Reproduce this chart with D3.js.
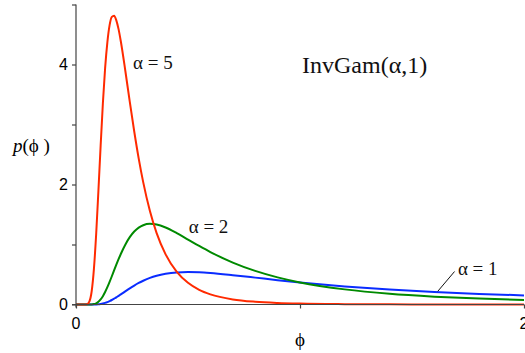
<!DOCTYPE html>
<html>
<head>
<meta charset="utf-8">
<script src="https://cdn.jsdelivr.net/npm/d3@7"></script>
<style>
  body { margin: 0; background: #fff; }
  svg { display: block; }
</style>
</head>
<body>
<div class="canvas"></div>
<script>
// phi grid shared by all three curves
const phi = [0, 0.02, 0.04, 0.05, 0.06, 0.07, 0.08, 0.09, 0.10, 0.11, 0.12, 0.13, 0.14, 0.15, 0.16, 0.17, 0.18, 0.19, 0.20,
  0.22, 0.24, 0.26, 0.28, 0.30, 0.33, 0.36, 0.40, 0.45, 0.50, 0.55, 0.60, 0.70, 0.80, 0.90, 1.0, 1.2, 1.4, 1.6, 1.8, 2.0]

const alpha5 = [0, 0, 0, 0.0055, 0.052, 0.221, 0.593, 1.171, 1.892, 2.648, 3.355, 3.941, 4.370, 4.655, 4.794, 4.814, 4.736, 4.589, 4.387,
  3.900, 3.380, 2.883, 2.431, 2.039, 1.558, 1.190, 0.835, 0.544, 0.361, 0.244, 0.169, 0.085, 0.046, 0.026, 0.015, 0.006, 0.003, 0.0013, 0.0007, 0.0004]

const alpha2 = [0, 0, 0, 0, 0.0003, 0.0018, 0.0073, 0.0205, 0.0454, 0.0846, 0.139, 0.208, 0.288, 0.377, 0.471, 0.568, 0.663, 0.755, 0.842,
  0.997, 1.122, 1.216, 1.281, 1.321, 1.344, 1.333, 1.283, 1.189, 1.083, 0.976, 0.874, 0.699, 0.560, 0.452, 0.368, 0.252, 0.178, 0.131, 0.098, 0.076]

const alpha1 = [0, 0, 0, 0, 0, 0.0001, 0.0006, 0.0018, 0.0045, 0.0093, 0.0167, 0.027, 0.040, 0.057, 0.075, 0.097, 0.119, 0.144, 0.168,
  0.219, 0.269, 0.316, 0.359, 0.396, 0.444, 0.480, 0.513, 0.535, 0.541, 0.537, 0.525, 0.489, 0.448, 0.406, 0.368, 0.302, 0.250, 0.209, 0.177, 0.152]

const series = [
  { name: 'α = 1', values: alpha1, color: '#0a2cff' },
  { name: 'α = 2', values: alpha2, color: '#008a00' },
  { name: 'α = 5', values: alpha5, color: '#ff2a00' }
]

const xTicks = [0, 1, 2]
const yTicks = [0, 1, 2, 3, 4, 5]
const yLabels = [0, 2, 4]

const dims = { width: 525, height: 353 }

const svg = d3.select('.canvas').append('svg')
  .attr('width', dims.width)
  .attr('height', dims.height)

const x = d3.scaleLinear().domain([0, 2]).range([76, 524])
const y = d3.scaleLinear().domain([0, 5]).range([304.5, 4.5])

const sans = '"Liberation Sans", Arial, Helvetica, sans-serif'
const serif = '"Liberation Serif", "Times New Roman", serif'

// curves
const line = d3.line()
  .x((d, i) => x(phi[i]))
  .y(d => y(d))
  .curve(d3.curveMonotoneX)

svg.append('g')
  .selectAll('path')
  .data(series)
  .enter()
  .append('path')
  .attr('d', d => line(d.values))
  .attr('fill', 'none')
  .attr('stroke', d => d.color)
  .attr('stroke-width', 2)

// axes
const axisColor = '#444'

const yAxis = svg.append('g')
  .attr('transform', `translate(${x(0)}, 0)`)
  .call(d3.axisLeft(y).tickValues(yTicks).tickSize(4).tickFormat(''))
yAxis.select('.domain').attr('d', `M0,${y(0) + 3}V${y(5)}`)

const xAxis = svg.append('g')
  .attr('transform', `translate(0, ${y(0)})`)
  .call(d3.axisBottom(x).tickValues(xTicks).tickSize(4).tickFormat(''))
xAxis.select('.domain').attr('d', `M${x(0) - 4},0H${x(2)}`)

svg.selectAll('.domain, .tick line')
  .attr('stroke', axisColor)
  .attr('stroke-width', 1.2)

// tick labels
svg.append('g')
  .selectAll('text')
  .data(yLabels)
  .enter()
  .append('text')
  .attr('x', 68)
  .attr('y', d => y(d) + 5.5)
  .attr('text-anchor', 'end')
  .attr('font-family', sans)
  .attr('font-size', 16)
  .attr('fill', '#000')
  .text(d => d)

svg.append('g')
  .selectAll('text')
  .data([0, 2])
  .enter()
  .append('text')
  .attr('x', d => x(d))
  .attr('y', 329)
  .attr('text-anchor', 'middle')
  .attr('font-family', sans)
  .attr('font-size', 16)
  .attr('fill', '#000')
  .text(d => d)

// axis titles
svg.append('text')
  .attr('x', x(1))
  .attr('y', 346)
  .attr('text-anchor', 'middle')
  .attr('font-family', serif)
  .attr('font-size', 19)
  .text('ϕ')

const yTitle = svg.append('text')
  .attr('x', 13)
  .attr('y', 152)
  .attr('font-family', serif)
  .attr('font-size', 19)
yTitle.append('tspan').attr('font-style', 'italic').text('p')
yTitle.append('tspan').text('(ϕ )')

// curve labels
const labels = [
  { text: 'α = 5', x: 0.255, y: 3.92 },
  { text: 'α = 2', x: 0.503, y: 1.2 },
  { text: 'α = 1', x: 1.705, y: 0.5 }
]

svg.append('g')
  .selectAll('text')
  .data(labels)
  .enter()
  .append('text')
  .attr('x', d => x(d.x))
  .attr('y', d => y(d.y))
  .attr('font-family', serif)
  .attr('font-size', 19)
  .attr('fill', '#111')
  .text(d => d.text)

// leader line for alpha = 1
svg.append('line')
  .attr('x1', x(1.615)).attr('y1', y(0.22))
  .attr('x2', x(1.69)).attr('y2', y(0.55))
  .attr('stroke', '#111')
  .attr('stroke-width', 1)

svg.append('text')
  .attr('x', 302)
  .attr('y', 73)
  .attr('font-family', serif)
  .attr('font-size', 24)
  .attr('fill', '#111')
  .text('InvGam(α,1)')
</script>
</body>
</html>
